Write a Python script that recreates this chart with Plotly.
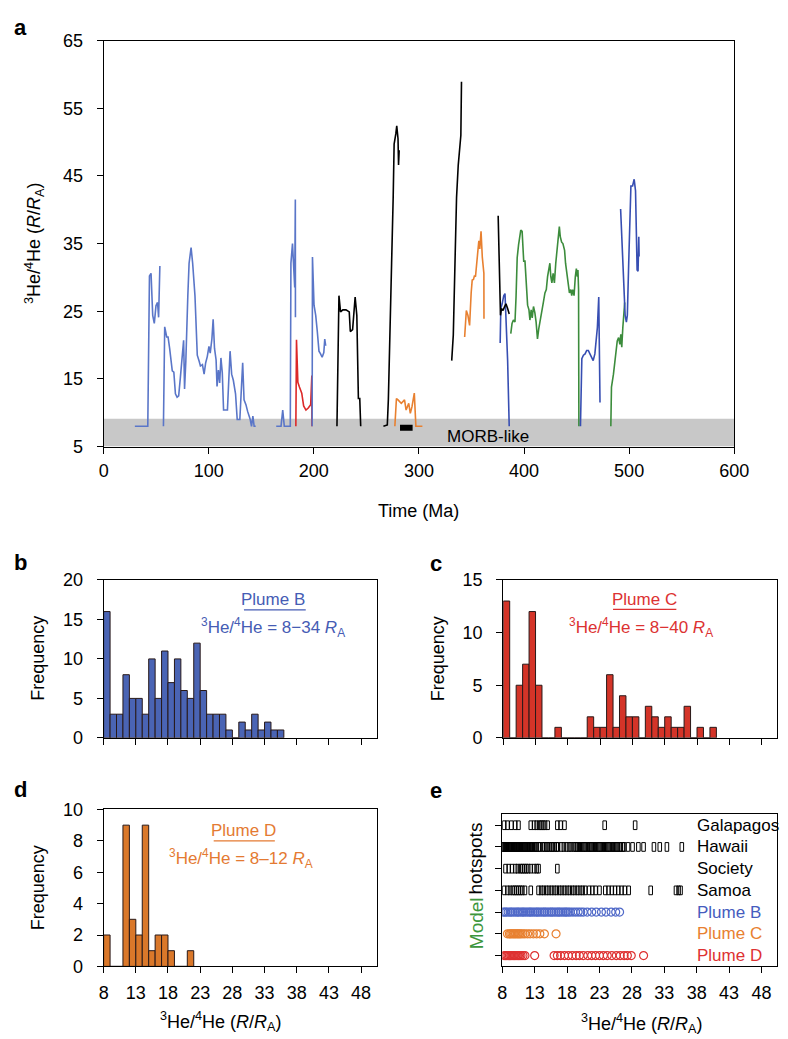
import plotly.graph_objects as go

W, H = 788, 1039
def px(x): return x / W
def py(y): return 1 - y / H

FONT = "Liberation Sans, Arial, sans-serif"

# ---------------- colours ----------------
BLUE1 = "rgb(90,118,200)"
BLUE2 = "rgb(55,78,178)"
RED = "rgb(220,40,40)"
ORANGE = "rgb(232,128,48)"
GREEN = "rgb(60,140,60)"
BLACK = "black"

# ---------------- panel a: time series (Ma, R/RA) ----------------
blueA_t = [29.7, 42.0, 43.6, 45.1, 46.7, 48.2, 49.8, 51.3, 52.3, 53.5]
blueA_v = [8.0, 8.0, 30.2, 30.6, 24.4, 23.2, 25.8, 26.3, 24.1, 31.7]

blueB_t = [56.9, 57.2, 58.1, 60.0, 61.3, 62.8, 65.3, 66.8, 68.3, 69.9, 71.4, 73.0, 74.5, 76.1, 77.0,
           78.2, 80.1, 81.3, 83.2, 84.7, 86.9, 89.1, 90.9, 92.1, 94.0, 95.6, 97.1, 98.6, 100.2,
           101.4, 103.0, 104.2, 105.5, 107.0, 107.9, 109.2, 110.4, 111.6, 112.9, 114.1, 117.8,
           119.0, 120.3, 121.8, 123.4, 125.5, 127.1, 129.6, 131.1, 132.3, 133.6, 135.4, 137.0,
           139.5, 140.7, 142.0, 143.2, 144.7]
blueB_v = [8.0, 13.3, 22.7, 21.2, 21.2, 19.5, 16.2, 16.0, 12.8, 12.3, 12.5, 15.2, 18.5, 20.7, 13.5,
           17.6, 27.3, 32.1, 34.4, 32.1, 27.3, 18.5, 17.6, 16.9, 17.1, 15.7, 17.4, 18.3, 19.8,
           18.8, 20.9, 23.8, 19.5, 17.8, 13.9, 16.3, 14.4, 18.1, 15.9, 10.4, 10.4,
           15.2, 19.1, 15.7, 14.8, 12.8, 9.0, 9.0, 13.6, 17.4, 11.9, 11.2, 10.2,
           9.0, 8.0, 9.5, 8.0, 8.0]

blueC_t = [164.2, 168.8, 170.4, 171.9, 175.0, 177.6, 178.2, 179.7, 181.8, 182.4, 182.5]
blueC_v = [8.0, 8.0, 10.4, 8.0, 8.0, 8.0, 32.1, 35.0, 28.5, 41.5, 24.1]

red_t = [182.9, 183.5, 184.1, 184.8, 186.3, 188.5, 190.3, 192.5, 194.7, 197.0, 198.1, 198.1]
red_v = [8.0, 20.8, 17.9, 14.5, 13.8, 12.9, 11.0, 10.4, 10.7, 11.2, 15.5, 8.0]

blueD_t = [198.4, 198.7, 200.2, 201.8, 203.3, 204.9, 206.4, 207.9, 209.5, 210.4, 211.3]
blueD_v = [8.0, 33.0, 25.9, 24.4, 22.0, 19.1, 18.7, 18.2, 18.9, 20.9, 19.9]

blackA_t = [222.0, 223.9, 225.4, 227.6, 230.6, 233.7, 234.7, 236.9, 239.3, 240.9, 242.4, 243.7, 244.6]
blackA_v = [8.0, 27.3, 24.9, 25.2, 25.2, 24.9, 22.0, 22.3, 27.1, 24.4, 12.1, 12.1, 8.0]

blackB_t = [266.2, 269.9, 270.9, 272.4, 274.0, 275.5, 276.4, 278.0, 278.9, 280.1, 280.6, 281.2]
blackB_v = [8.0, 8.2, 11.9, 20.1, 32.1, 41.8, 49.7, 51.2, 52.4, 50.5, 46.6, 48.8]

orangeA_t = [277.1, 278.6, 280.1, 283.2, 286.3, 287.8, 290.3, 291.8, 293.4, 295.6, 296.2, 297.1, 303.3]
orangeA_v = [8.0, 12.1, 11.9, 11.4, 11.9, 10.4, 11.4, 9.9, 10.9, 12.9, 10.9, 8.0, 8.0]

blackbar_t = [282.0, 294.0]
blackbar_v = [7.8, 7.8]

blackC_t = [331.2, 332.7, 334.3, 335.8, 337.4, 338.9, 339.9, 340.5]
blackC_v = [17.7, 21.5, 32.1, 41.8, 46.6, 50.0, 51.0, 58.9]

orangeB_t = [343.5, 345.1, 346.6, 348.2, 349.7, 350.7, 351.9, 352.9, 353.8, 355.1, 356.0, 357.0,
             357.9, 359.1, 360.3, 361.8, 361.9]
orangeB_v = [21.2, 25.1, 24.4, 22.9, 27.7, 29.6, 29.7, 30.3, 30.1, 32.0, 33.5, 35.4,
             34.2, 36.8, 33.0, 30.6, 23.9]

blueE_t = [377.3, 377.9, 379.2, 380.7, 381.9, 382.8, 384.4, 385.9]
blueE_v = [20.3, 25.4, 26.1, 27.3, 27.6, 24.4, 17.7, 8.0]

blackD_t = [375.4, 376.3, 377.6, 378.5, 380.0, 381.3, 382.8, 384.4, 385.9]
blackD_v = [39.1, 32.1, 24.4, 25.4, 25.1, 25.6, 26.1, 25.4, 24.6]

greenA_t = [387.4, 388.6, 389.9, 391.4, 392.4, 393.5, 394.8, 396.0, 396.9, 398.2, 399.7, 400.9,
            402.2, 403.4, 404.7, 405.6, 406.8, 407.8, 409.0, 410.3, 411.5, 412.8, 414.0, 415.3,
            416.8, 418.4, 419.9, 421.2, 422.4, 423.7, 424.6, 425.5, 426.5, 427.7, 428.9, 430.2,
            431.4, 432.7, 433.6, 434.5, 435.8, 437.0, 438.6, 439.5, 441.0, 442.0, 443.2, 444.5,
            445.4, 446.3, 447.6, 448.8, 449.8, 450.7, 451.3, 451.9, 452.2]
greenA_v = [21.7, 23.2, 23.7, 23.4, 27.1, 32.9, 34.8, 36.3, 37.0, 36.8, 32.4, 32.4,
            28.1, 25.9, 25.2, 23.7, 25.2, 24.0, 25.7, 24.8, 23.4, 20.9, 22.4, 23.4,
            24.8, 26.3, 27.7, 28.2, 30.1, 31.6, 32.1, 30.1, 29.2, 30.6, 29.2, 32.1,
            34.0, 36.0, 37.5, 36.0, 35.2, 35.0, 34.0, 32.1, 30.1, 28.7, 27.7, 28.2,
            27.3, 28.2, 27.3, 30.1, 31.3, 30.1, 31.1, 28.2, 8.0]

blueF_t = [453.7, 454.4, 455.0, 456.5, 458.1, 459.6, 461.2, 462.7, 464.3, 465.8, 467.4, 468.6,
           469.8, 471.1, 471.7, 472.3]
blueF_v = [8.0, 17.7, 18.0, 18.5, 18.7, 19.2, 19.2, 18.7, 18.2, 17.7, 18.7, 21.1,
           22.6, 27.1, 19.7, 11.5]

greenB_t = [482.6, 483.2, 485.1, 486.3, 487.5, 488.7, 490.0, 491.2, 492.1, 493.0, 494.0, 494.9, 495.8]
greenB_v = [8.0, 13.8, 15.7, 17.7, 19.2, 20.6, 21.1, 20.1, 21.6, 19.7, 22.6, 24.4, 26.3]

blueG_t = [491.9, 493.4, 494.9, 496.2, 497.4, 498.3, 499.6, 500.8, 501.7, 503.3, 504.8, 506.1,
           507.0, 507.6, 508.5, 509.2, 509.5]
blueG_v = [40.1, 34.0, 28.2, 24.4, 23.4, 24.4, 32.1, 38.9, 43.5, 43.5, 44.5, 42.8,
           36.0, 31.1, 30.9, 36.0, 33.1]

morb_band = [5.0, 9.1]

# ---------------- panels b-d: histograms (1 RA bins starting at 8) ----------------
bin_start = 8
hist_b = [16, 3, 3, 8, 5, 5, 3, 10, 5, 11, 7, 10, 6, 5, 12, 6, 3, 3, 3, 1, 0, 2, 1, 3, 1, 2, 1, 1]
hist_c = [13, 0, 5, 7, 12, 5, 0, 0, 1, 0, 0, 0, 0, 2, 1, 1, 6, 1, 4, 2, 2, 0, 3, 2, 1, 2, 1, 1, 3, 0, 1, 0, 1]
hist_d = [2, 0, 0, 9, 3, 2, 9, 1, 2, 2, 1, 0, 0, 1]

# ---------------- panel e: strips ----------------
rows_e = ["Galapagos", "Hawaii", "Society", "Samoa", "Plume B", "Plume C", "Plume D"]
galapagos = [8.3, 8.8, 9.4, 10.0, 10.5, 12.4, 12.9, 13.3, 13.7, 14.0, 14.3, 14.6, 15.0, 16.5, 17.0, 17.6, 23.8, 28.5]
hawaii = [8.0, 8.1, 8.3, 8.4, 8.5, 8.7, 8.8, 8.9, 9.1, 9.2, 9.3, 9.5, 9.6, 9.7, 9.9, 10.0, 10.1, 10.3,
          10.4, 10.5, 10.7, 10.8, 10.9, 11.1, 11.2, 11.4, 11.5, 11.6, 11.8, 11.9, 12.1, 12.2, 12.4,
          12.5, 12.7, 12.9, 13.1, 13.3, 13.6, 13.8, 14.2, 14.5, 14.8, 15.0, 15.3, 15.6, 15.8, 16.1,
          16.4, 16.6, 17.1, 17.5, 17.9, 18.3, 18.6, 19.0, 19.3, 19.5, 19.8, 20.0, 20.2, 20.5, 20.7,
          20.9, 21.2, 21.4, 21.6, 21.8, 22.1, 22.3, 22.5, 22.8, 23.0, 23.2, 23.5, 23.7, 23.9, 24.2,
          24.4, 24.6, 24.9, 25.1, 25.3, 25.6, 25.8, 26.1, 26.3, 26.6, 26.8, 27.4, 28.1, 29.0, 29.8,
          31.4, 32.3, 33.4, 35.7]
society = [8.5, 9.0, 9.5, 10.0, 10.4, 10.8, 11.1, 11.4, 11.7, 12.0, 12.4, 12.9, 13.3, 13.6, 16.5]
samoa = [8.3, 8.8, 9.2, 9.6, 9.9, 10.2, 10.5, 10.8, 11.1, 11.5, 12.4, 13.6, 14.0, 14.4, 14.8, 15.2,
         15.6, 16.0, 16.4, 16.8, 17.2, 17.6, 18.0, 18.4, 18.8, 19.2, 19.6, 20.0, 20.4, 20.8, 21.4,
         21.9, 22.4, 23.0, 23.9, 24.4, 24.9, 25.4, 25.9, 26.4, 26.9, 27.5, 30.9, 34.8, 35.2, 35.5]
plume_b_pts = [8.1, 8.4, 8.6, 8.9, 9.2, 9.4, 9.7, 10.0, 10.3, 10.5, 10.8, 11.1, 11.3, 11.6, 11.9,
               12.2, 12.4, 12.7, 13.0, 13.3, 13.5, 13.8, 14.1, 14.4, 14.6, 14.9, 15.2, 15.5, 15.7,
               16.0, 16.3, 16.6, 16.8, 17.1, 17.4, 17.7, 17.9, 18.2, 18.5, 18.9, 19.3, 19.7, 20.1,
               20.5, 21.1, 21.8, 22.5, 23.3, 24.0, 24.8, 25.5, 26.1]
plume_c_pts = [8.8, 9.1, 9.3, 9.5, 9.7, 9.9, 10.1, 10.3, 10.5, 10.7, 10.9, 11.2, 11.5, 11.9, 12.3,
               12.8, 13.3, 13.8, 14.5, 16.3]
plume_d_pts = [8.3, 8.5, 8.7, 8.9, 9.1, 9.3, 9.5, 9.7, 9.9, 10.1, 10.3, 10.5, 10.7, 10.9, 11.2,
               11.5, 13.0, 16.0, 16.5, 17.0, 17.6, 18.2, 18.8, 19.4, 19.9, 20.5, 21.2, 21.8, 22.4,
               23.0, 23.6, 24.2, 24.9, 25.6, 26.2, 26.8, 27.3, 27.9, 29.8]

he_ticks = [8, 13, 18, 23, 28, 33, 38, 43, 48]

fig = go.Figure()

segments = [
    (blueA_t, blueA_v, BLUE1), (blueB_t, blueB_v, BLUE1), (blueC_t, blueC_v, BLUE1),
    (red_t, red_v, RED), (blueD_t, blueD_v, BLUE1), (blackA_t, blackA_v, BLACK),
    (blackB_t, blackB_v, BLACK), (orangeA_t, orangeA_v, ORANGE), (blackC_t, blackC_v, BLACK),
    (orangeB_t, orangeB_v, ORANGE), (blueE_t, blueE_v, BLUE2), (blackD_t, blackD_v, BLACK),
    (greenA_t, greenA_v, GREEN), (blueF_t, blueF_v, BLUE2), (greenB_t, greenB_v, GREEN),
    (blueG_t, blueG_v, BLUE2),
]
for t, v, c in segments:
    fig.add_trace(go.Scatter(x=t, y=v, mode="lines", line=dict(color=c, width=1.6),
                             xaxis="x", yaxis="y", showlegend=False, hoverinfo="skip"))
fig.add_trace(go.Scatter(x=blackbar_t, y=blackbar_v, mode="lines", line=dict(color="black", width=6),
                         xaxis="x", yaxis="y", showlegend=False, hoverinfo="skip"))

# histograms
for counts, col, xa, ya in [(hist_b, "rgb(74,100,180)", "x2", "y2"),
                            (hist_c, "rgb(212,52,40)", "x3", "y3"),
                            (hist_d, "rgb(218,120,42)", "x4", "y4")]:
    centers = [bin_start + i + 0.5 for i in range(len(counts))]
    fig.add_trace(go.Bar(x=centers, y=counts, width=1.0,
                         marker=dict(color=col, line=dict(color="rgb(40,25,25)", width=1)),
                         xaxis=xa, yaxis=ya, showlegend=False, hoverinfo="skip"))

# panel e hotspots: open narrow rectangles
rect_h = 0.4
for i, vals in enumerate([galapagos, hawaii, society, samoa]):
    fig.add_trace(go.Bar(x=vals, y=[rect_h] * len(vals), base=[i - rect_h / 2] * len(vals), width=0.55,
                         marker=dict(color="rgba(0,0,0,0)", line=dict(color="black", width=1)),
                         xaxis="x5", yaxis="y5", showlegend=False, hoverinfo="skip"))
for i, vals, col in [(4, plume_b_pts, "rgb(80,105,200)"), (5, plume_c_pts, ORANGE),
                     (6, plume_d_pts, "rgb(222,50,50)")]:
    fig.add_trace(go.Scatter(x=vals, y=[i] * len(vals), mode="markers",
                             marker=dict(symbol="circle-open", size=8, color=col, line=dict(width=1.2)),
                             xaxis="x5", yaxis="y5", showlegend=False, hoverinfo="skip"))

ax = dict(showline=True, linecolor="black", linewidth=1, mirror=True, ticks="outside", ticklen=6,
          tickcolor="black", showgrid=False, zeroline=False,
          tickfont=dict(family=FONT, size=18, color="black"))

layout = dict(
    width=W, height=H, margin=dict(l=0, r=0, t=0, b=0),
    paper_bgcolor="white", plot_bgcolor="white", barmode="overlay",
    font=dict(family=FONT, color="black", size=18),
    xaxis=dict(ax, domain=[px(93), px(740)], range=[0, 600], tickvals=[0, 100, 200, 300, 400, 500, 600],
               anchor="y", ticklabelstandoff=2),
    yaxis=dict(ax, domain=[py(437), py(23)], range=[5, 65], tickvals=[5, 15, 25, 35, 45, 55, 65],
               anchor="x", ticklabelstandoff=10),
    xaxis2=dict(ax, domain=[px(93), px(373)], range=[8, 50.4], tickvals=he_ticks, showticklabels=False, anchor="y2"),
    yaxis2=dict(ax, domain=[py(734), py(573)], range=[0, 20], tickvals=[0, 5, 10, 15, 20], anchor="x2",
                ticklabelstandoff=10),
    xaxis3=dict(ax, domain=[px(503), px(784)], range=[8, 50.4], tickvals=he_ticks, showticklabels=False, anchor="y3"),
    yaxis3=dict(ax, domain=[py(734), py(573)], range=[0, 15], tickvals=[0, 5, 10, 15], anchor="x3",
                ticklabelstandoff=10),
    xaxis4=dict(ax, domain=[px(93), px(373)], range=[8, 50.4], tickvals=he_ticks, anchor="y4",
                ticklabelstandoff=4),
    yaxis4=dict(ax, domain=[py(967), py(807)], range=[0, 10], tickvals=[0, 2, 4, 6, 8, 10], anchor="x4",
                ticklabelstandoff=10),
    xaxis5=dict(ax, domain=[px(502), px(784)], range=[8, 50.4], tickvals=he_ticks, anchor="y5",
                ticklabelstandoff=4),
    yaxis5=dict(ax, domain=[py(967), py(812)], range=[6.5, -0.5], tickvals=list(range(7)),
                showticklabels=False, anchor="x5"),
)

shapes = [
    dict(type="rect", xref="x", yref="y", x0=0, x1=600, y0=morb_band[0], y1=morb_band[1],
         fillcolor="rgb(200,200,200)", line=dict(width=0), layer="below"),
    dict(type="line", xref="x2", yref="y2", x0=29.8, x1=39.4, y0=16.2, y1=16.2,
         line=dict(color="rgb(70,92,180)", width=1.2)),
    dict(type="line", xref="x3", yref="y3", x0=25.0, x1=34.8, y0=12.2, y1=12.2,
         line=dict(color="rgb(220,50,50)", width=1.2)),
    dict(type="line", xref="x4", yref="y4", x0=25.1, x1=34.6, y0=8.0, y1=8.0,
         line=dict(color="rgb(228,122,50)", width=1.2)),
]

RA = "<i>R</i><sub>A</sub>"
he_title = "<sup>3</sup>He/<sup>4</sup>He (<i>R</i>/" + RA + ")"

def pann(text, x, y, size=18, color="black", angle=0, bold=False, xanchor="center"):
    t = "<b>%s</b>" % text if bold else text
    return dict(text=t, x=px(x), y=py(y), xref="paper", yref="paper", showarrow=False,
                font=dict(family=FONT, size=size, color=color), textangle=angle,
                xanchor=xanchor, yanchor="middle")

def dann(text, x, y, xr, yr, size=17, color="black", xanchor="center"):
    return dict(text=text, x=x, y=y, xref=xr, yref=yr, showarrow=False,
                font=dict(family=FONT, size=size, color=color), xanchor=xanchor, yanchor="middle")

annotations = [
    pann("a", 8, 10, 22, bold=True), pann("b", 8, 555, 22, bold=True), pann("c", 434, 556, 22, bold=True),
    pann("d", 8, 787, 22, bold=True), pann("e", 434, 788, 22, bold=True),
    pann("Time (Ma)", 416, 503, 18),
    pann(he_title, 22, 230, 18, angle=-90),
    pann("Frequency", 26, 653, 18, angle=-90),
    pann("Frequency", 437, 653, 18, angle=-90),
    pann("Frequency", 26, 887, 18, angle=-90),
    pann(he_title, 213, 1023, 18),
    pann(he_title, 645, 1025, 18),
    pann("hotspots", 475, 857, 19, angle=-90),
    pann("Model", 475, 923, 19, color="rgb(60,150,60)", angle=-90),
    dann("MORB-like", 366, 6.45, "x", "y", 17),
    dann("Plume B", 34.3, 17.5, "x2", "y2", 17, "rgb(70,92,180)"),
    dann("<sup>3</sup>He/<sup>4</sup>He = 8−34 " + RA, 34.3, 14.0, "x2", "y2", 17, "rgb(70,92,180)"),
    dann("Plume C", 29.8, 13.1, "x3", "y3", 17, "rgb(220,50,50)"),
    dann("<sup>3</sup>He/<sup>4</sup>He = 8−40 " + RA, 29.4, 10.5, "x3", "y3", 17, "rgb(220,50,50)"),
    dann("Plume D", 29.8, 8.65, "x4", "y4", 17, "rgb(228,122,50)"),
    dann("<sup>3</sup>He/<sup>4</sup>He = 8–12 " + RA, 29.4, 6.9, "x4", "y4", 17, "rgb(228,122,50)"),
]
row_colors = ["black", "black", "black", "black", "rgb(70,92,190)", ORANGE, "rgb(222,50,50)"]
for i, (name, col) in enumerate(zip(rows_e, row_colors)):
    annotations.append(dann(name, 37.7, i, "x5", "y5", 17, col, xanchor="left"))

layout["shapes"] = shapes
layout["annotations"] = annotations
fig.update_layout(**layout)
fig.write_html("out.html")
